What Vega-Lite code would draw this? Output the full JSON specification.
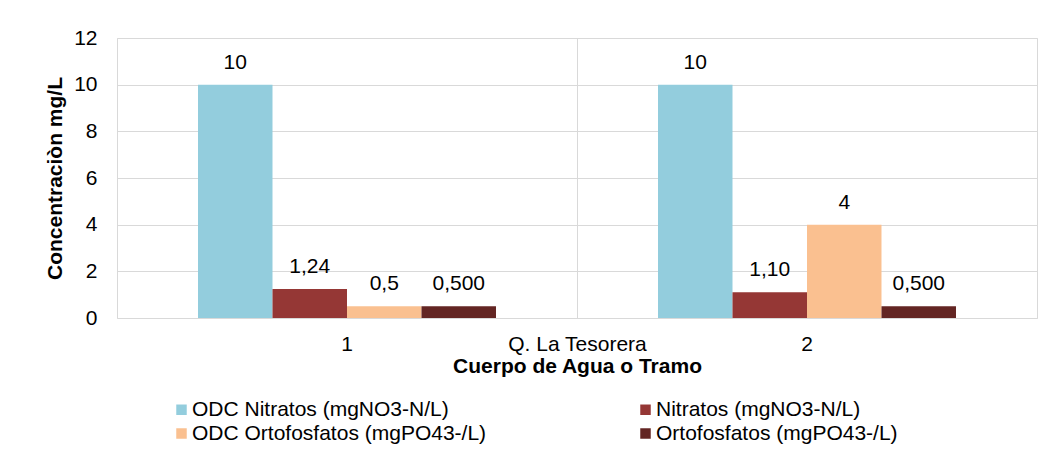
{
  "$schema": "https://vega.github.io/schema/vega-lite/v6.json",
  "width": 920,
  "height": 280,
  "autosize": {"type": "none"},
  "padding": {"left": 117, "top": 38, "right": 16, "bottom": 140},
  "background": "#ffffff",
  "config": {
    "font": "Liberation Sans",
    "view": {"stroke": "#d9d9d9", "strokeWidth": 1}
  },
  "layer": [
    {
      "data": {
        "values": [
          {"grupo": "1", "serie": "ODC Nitratos (mgNO3-N/L)", "valor": 10, "etiqueta": "10"},
          {"grupo": "1", "serie": "Nitratos (mgNO3-N/L)", "valor": 1.24, "etiqueta": "1,24"},
          {"grupo": "1", "serie": "ODC Ortofosfatos (mgPO43-/L)", "valor": 0.5, "etiqueta": "0,5"},
          {"grupo": "1", "serie": "Ortofosfatos (mgPO43-/L)", "valor": 0.5, "etiqueta": "0,500"},
          {"grupo": "2", "serie": "ODC Nitratos (mgNO3-N/L)", "valor": 10, "etiqueta": "10"},
          {"grupo": "2", "serie": "Nitratos (mgNO3-N/L)", "valor": 1.10, "etiqueta": "1,10"},
          {"grupo": "2", "serie": "ODC Ortofosfatos (mgPO43-/L)", "valor": 4, "etiqueta": "4"},
          {"grupo": "2", "serie": "Ortofosfatos (mgPO43-/L)", "valor": 0.5, "etiqueta": "0,500"}
        ]
      },
      "encoding": {
        "x": {
          "field": "grupo",
          "type": "nominal",
          "scale": {"paddingInner": 0.0283, "paddingOuter": 0.01415},
          "axis": {
            "orient": "bottom",
            "title": null,
            "labelAngle": 0,
            "labelFontSize": 21,
            "labelColor": "#000000",
            "labelPadding": 15,
            "ticks": false,
            "tickSize": 0,
            "domain": false,
            "grid": false
          }
        },
        "xOffset": {
          "field": "serie",
          "type": "nominal",
          "sort": ["ODC Nitratos (mgNO3-N/L)", "Nitratos (mgNO3-N/L)", "ODC Ortofosfatos (mgPO43-/L)", "Ortofosfatos (mgPO43-/L)"],
          "scale": {"paddingInner": 0, "paddingOuter": 1}
        },
        "y": {
          "field": "valor",
          "type": "quantitative",
          "scale": {"domain": [0, 12], "nice": false},
          "axis": {
            "title": "Concentraciòn mg/L",
            "titleFontSize": 21,
            "titleFontWeight": "bold",
            "titleColor": "#000000",
            "titlePadding": 8,
            "values": [0, 2, 4, 6, 8, 10, 12],
            "labelFontSize": 21,
            "labelColor": "#000000",
            "labelPadding": 20,
            "ticks": false,
            "tickSize": 0,
            "domain": false,
            "grid": true,
            "gridColor": "#d9d9d9",
            "gridWidth": 1
          }
        }
      },
      "layer": [
        {
          "mark": {"type": "bar"},
          "encoding": {
            "color": {
              "field": "serie",
              "type": "nominal",
              "sort": ["ODC Nitratos (mgNO3-N/L)", "Nitratos (mgNO3-N/L)", "ODC Ortofosfatos (mgPO43-/L)", "Ortofosfatos (mgPO43-/L)"],
              "scale": {
                "domain": ["ODC Nitratos (mgNO3-N/L)", "Nitratos (mgNO3-N/L)", "ODC Ortofosfatos (mgPO43-/L)", "Ortofosfatos (mgPO43-/L)"],
                "range": ["#93cddd", "#953735", "#fac090", "#632523"]
              },
              "legend": {
                "title": null,
                "orient": "none",
                "legendX": 54,
                "legendY": 361,
                "direction": "horizontal",
                "columns": 2,
                "columnPadding": 148,
                "rowPadding": 2,
                "symbolType": "square",
                "symbolSize": 110,
                "symbolStrokeWidth": 0,
                "labelFontSize": 21,
                "labelColor": "#000000",
                "labelOffset": 0,
                "labelLimit": 400
              }
            }
          }
        },
        {
          "mark": {"type": "text", "baseline": "alphabetic", "dy": -16, "fontSize": 21, "color": "#000000"},
          "encoding": {
            "text": {"field": "etiqueta", "type": "nominal"}
          }
        }
      ]
    },
    {
      "data": {"values": [{"cuerpo": "Q. La Tesorera"}]},
      "mark": {"type": "text"},
      "encoding": {
        "x": {
          "field": "cuerpo",
          "type": "nominal",
          "scale": {"paddingInner": 0, "paddingOuter": 0},
          "axis": {
            "orient": "bottom",
            "title": "Cuerpo de Agua o Tramo",
            "titleFontSize": 21,
            "titleFontWeight": "bold",
            "titleColor": "#000000",
            "titlePadding": 1,
            "labelAngle": 0,
            "labelFontSize": 21,
            "labelColor": "#000000",
            "labelPadding": 15,
            "ticks": false,
            "tickSize": 0,
            "domain": false,
            "grid": true,
            "gridColor": "#d9d9d9",
            "gridWidth": 1
          }
        },
        "text": {"value": ""}
      }
    }
  ],
  "resolve": {"scale": {"x": "independent"}, "axis": {"x": "independent"}}
}
